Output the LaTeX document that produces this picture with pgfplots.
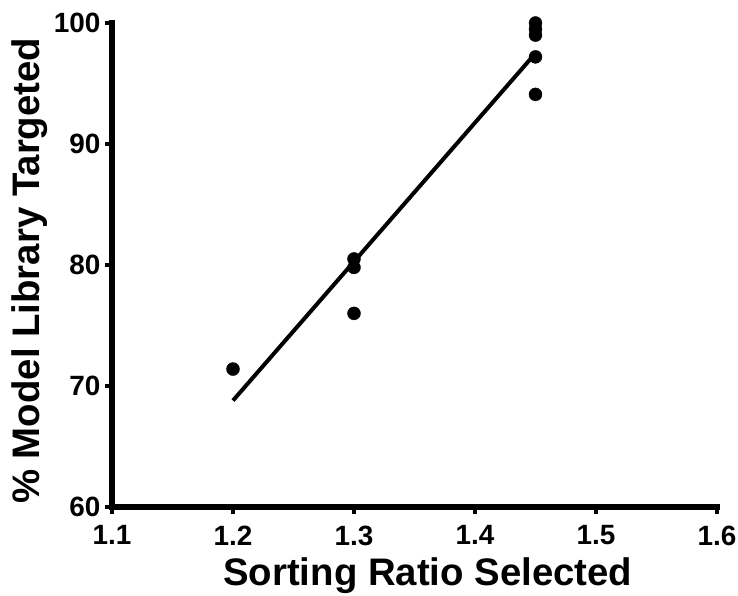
\documentclass[border=0pt]{standalone}
\usepackage{pgfplots}
\pgfplotsset{compat=1.18}
\usepackage{fontspec}
\setmainfont{Liberation Sans}
\begin{document}
\begin{tikzpicture}
\useasboundingbox (-112bp,-89bp) rectangle (626bp,507bp);
\begin{axis}[
  scale only axis,
  width=605bp, height=484bp,
  xmin=1.1, xmax=1.6, ymin=60, ymax=100,
  xtick={1.1,1.2,1.3,1.4,1.5,1.6},
  ytick={60,70,80,90,100},
  axis lines*=left,
  axis line style={line width=5.5bp, line cap=rect},
  tick align=outside,
  major tick length=7bp,
  tick style={line width=4bp, black},
  /pgf/number format/assume math mode=true,
  xticklabel style={/pgf/number format/fixed, /pgf/number format/fixed zerofill, /pgf/number format/precision=1, yshift=-8bp},
  yticklabel style={xshift=-1bp},
  tick label style={font=\bfseries\fontsize{28}{28}\selectfont},
  xlabel={Sorting Ratio Selected},
  ylabel={\% Model Library Targeted},
  every axis x label/.style={at={(axis description cs:0.522,0)}, anchor=center, yshift=-69bp, font=\bfseries\fontsize{38.5}{38.5}\selectfont},
  every axis y label/.style={at={(axis description cs:-0.1355,0.488)}, anchor=center, rotate=90, font=\bfseries\fontsize{38.5}{38.5}\selectfont},
  clip=false,
]
\addplot[only marks, mark=*, mark size=6.5bp, black] coordinates {
  (1.2,71.4)
  (1.3,80.5) (1.3,79.8) (1.3,76.0)
  (1.45,100.0) (1.45,99.5) (1.45,99.0) (1.45,97.2) (1.45,94.1)
};
\addplot[black, line width=4bp, no marks] coordinates {(1.2,68.8) (1.45,97.5)};
\end{axis}
\end{tikzpicture}
\end{document}
